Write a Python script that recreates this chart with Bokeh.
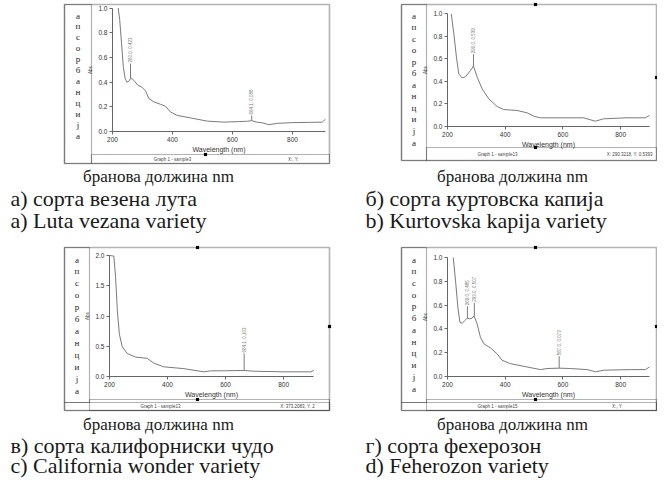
from math import pi
from bokeh.plotting import figure
from bokeh.models import Label, BoxAnnotation, FixedTicker, NumeralTickFormatter, Range1d
from bokeh.layouts import column, row
from bokeh.embed import file_html
from bokeh.resources import INLINE

# ---------------- data ----------------
wl_a = [219, 224, 230, 236, 242, 248, 254, 260, 266, 273, 284, 299, 310, 321, 338, 360, 377, 393, 416,
        460, 516, 571, 620, 650, 664, 680, 700, 721, 749, 800, 860, 899, 910]
ab_a = [1.0, 0.906, 0.716, 0.525, 0.43, 0.40, 0.405, 0.43, 0.425, 0.41, 0.375, 0.357, 0.33, 0.267, 0.24,
        0.22, 0.204, 0.158, 0.13, 0.11, 0.084, 0.076, 0.08, 0.083, 0.088, 0.076, 0.07, 0.055, 0.066,
        0.072, 0.074, 0.076, 0.10]
pk_wl_a = [260, 664]
pk_ab_a = [0.43, 0.088]
pk_top_a = [0.55, 0.13]
pk_txt_a = ["260.0, 0.423", "664.1, 0.088"]

wl_b = [213, 222, 231, 239, 251, 262, 280, 290, 303, 320, 343, 372, 395, 441, 476, 500, 522, 580, 672,
        712, 741, 822, 885, 900]
ab_b = [0.997, 0.82, 0.613, 0.466, 0.43, 0.44, 0.496, 0.535, 0.436, 0.333, 0.245, 0.177, 0.15, 0.142,
        0.121, 0.09, 0.077, 0.077, 0.077, 0.047, 0.068, 0.077, 0.077, 0.097]
pk_wl_b = [290]
pk_ab_b = [0.535]
pk_top_b = [0.64]
pk_txt_b = ["290.0, 0.539"]

wl_c = [200, 215, 221, 227, 234, 244, 261, 290, 330, 353, 387, 456, 525, 548, 600, 663, 698, 801, 893, 904]
ab_c = [2.0, 1.99, 1.64, 1.09, 0.70, 0.49, 0.38, 0.32, 0.30, 0.22, 0.16, 0.13, 0.077, 0.093, 0.095,
        0.10, 0.087, 0.077, 0.077, 0.10]
pk_wl_c = [664]
pk_ab_c = [0.10]
pk_top_c = [0.38]
pk_txt_c = ["664.1, 0.103"]

wl_d = [220, 228, 236, 243, 251, 260, 268, 277, 285, 292, 303, 314, 326, 349, 372, 389, 418, 476, 522,
        545, 587, 626, 684, 713, 742, 834, 886, 900]
ab_d = [1.0, 0.80, 0.58, 0.456, 0.447, 0.47, 0.49, 0.485, 0.49, 0.51, 0.44, 0.33, 0.275, 0.24, 0.19,
        0.136, 0.108, 0.08, 0.058, 0.067, 0.07, 0.067, 0.058, 0.04, 0.053, 0.058, 0.058, 0.08]
pk_wl_d = [269, 293, 587]
pk_ab_d = [0.49, 0.51, 0.07]
pk_top_d = [0.59, 0.62, 0.17]
pk_txt_d = ["269.0, 0.485", "293.0, 0.507", "587.0, 0.073"]

x_ticks = [200, 400, 600, 800]
y_ticks_1 = [0.0, 0.2, 0.4, 0.6, 0.8, 1.0]
y_ticks_2 = [0.0, 0.5, 1.0, 1.5, 2.0]

caption_mk = ["а) сорта везена лута", "б) сорта куртовска капија",
              "в) сорта калифорниски чудо", "г) сорта фехерозон"]
caption_en = ["a) Luta vezana variety", "b) Kurtovska kapija variety",
              "c) California wonder variety", "d) Feherozon variety"]
x_caption = "бранова должина nm"
strip_word = "апсорбанција"
x_label = "Wavelength (nm)"
y_label = "Abs"
status_left = ["Graph 1 - sample3", "Graph 1 - sample13", "Graph 1 - sample13", "Graph 1 - sample15"]
status_right = ["X:, Y:", "X: 290.3218, Y: 0.5393", "X: 373.2083, Y: 2", "X:, Y:"]

# ---------------- layout geometry (reference pixel coordinates) ----------------
SERIF = "Liberation Serif"
SANS = "Liberation Sans"
CURVE = "#7a7a7a"

geo = [
    dict(origin=(0, 0), W=336, H=240, L=112, R=325, T=7.5, B=131, xmax=910, ymax=1.0,
         box=(64, 4, 329, 163), strip=(91, 163), sep=154, status_line=None, status_y=158.5,
         st_x=(172, 293), st_align="center", letters=(15, 135), cap_x=10, cap_c=158,
         cap_y=(176, 198, 220), handles=[(205, 154)]),
    dict(origin=(336, 0), W=321, H=240, L=447, R=649, T=13, B=126, xmax=900, ymax=1.0,
         box=(401, 4, 656, 160), strip=(426, 160), sep=147, status_line=None, status_y=154,
         st_x=(497, 652), st_align="right", letters=(15, 142), cap_x=365, cap_c=512,
         cap_y=(176, 198, 220), handles=[(535, 4), (656, 77), (535, 147)]),
    dict(origin=(0, 240), W=336, H=238, L=109, R=313, T=255, B=376, xmax=903, ymax=2.0,
         box=(64, 247, 329, 410), strip=(89, 402), sep=399, status_line=402, status_y=406,
         st_x=(160, 297), st_align="center", letters=(259, 390), cap_x=10, cap_c=158,
         cap_y=(424, 445, 465), handles=[(197, 247), (329, 326), (197, 399)]),
    dict(origin=(336, 240), W=321, H=238, L=447, R=649, T=257, B=376, xmax=900, ymax=1.0,
         box=(401, 247, 656, 410), strip=(426, 402), sep=399, status_line=402, status_y=406,
         st_x=(497, 617), st_align="center", letters=(259, 388), cap_x=365, cap_c=512,
         cap_y=(424, 445, 465), handles=[(535, 247), (656, 326), (535, 399)]),
]

series = [
    (wl_a, ab_a, pk_wl_a, pk_ab_a, pk_top_a, pk_txt_a, y_ticks_1),
    (wl_b, ab_b, pk_wl_b, pk_ab_b, pk_top_b, pk_txt_b, y_ticks_1),
    (wl_c, ab_c, pk_wl_c, pk_ab_c, pk_top_c, pk_txt_c, y_ticks_2),
    (wl_d, ab_d, pk_wl_d, pk_ab_d, pk_top_d, pk_txt_d, y_ticks_1),
]


def make_panel(i):
    g = geo[i]
    wl, ab, pwl, pab, ptop, ptxt, yt = series[i]
    ox, oy = g["origin"]
    W, H = g["W"], g["H"]
    L, R, T, B = g["L"], g["R"], g["T"], g["B"]
    xmax, ymax = g["xmax"], g["ymax"]

    kx = (xmax - 200) / (R - L)   # data units per pixel
    ky = ymax / (B - T)
    x0 = 200 - (L - ox) * kx
    x1 = 200 + (ox + W - L) * kx
    y0 = -(oy + H - B) * ky
    y1 = ymax + (T - oy) * ky

    p = figure(width=W, height=H, title=None, output_backend="svg", toolbar_location=None,
               x_range=Range1d(x0, x1), y_range=Range1d(y0, y1),
               min_border=0, min_border_left=0, min_border_right=0,
               min_border_top=0, min_border_bottom=0)
    p.outline_line_color = None
    p.grid.visible = False
    p.background_fill_color = "white"
    p.border_fill_color = "white"

    p.xaxis.fixed_location = 0
    p.yaxis.fixed_location = 200
    p.xaxis.bounds = (200, xmax)
    p.yaxis.bounds = (0, ymax)
    p.xaxis.ticker = FixedTicker(ticks=x_ticks)
    p.yaxis.ticker = FixedTicker(ticks=yt)
    p.yaxis.formatter = NumeralTickFormatter(format="0.0")
    for ax in (p.xaxis, p.yaxis):
        ax.axis_line_color = "#666666"
        ax.major_tick_line_color = "#666666"
        ax.major_tick_out = 3
        ax.major_tick_in = 0
        ax.major_label_text_font = SANS
        ax.major_label_text_font_size = "6.5px"
        ax.major_label_text_color = "#333333"
        ax.major_label_standoff = 2
        ax.axis_label_text_font = SANS
        ax.axis_label_text_font_style = "normal"
        ax.axis_label_text_color = "#333333"
    p.xaxis.axis_label = x_label
    p.xaxis.axis_label_text_font_size = "7px"
    p.xaxis.axis_label_standoff = 1
    p.yaxis.axis_label = y_label
    p.yaxis.axis_label_text_font_size = "4.5px"
    p.yaxis.axis_label_standoff = 2

    # spectrum
    p.line(wl, ab, line_color=CURVE, line_width=1)
    # peak markers
    p.segment(x0=pwl, y0=pab, x1=pwl, y1=ptop, line_color=CURVE, line_width=1)
    for xw, yt_, tx in zip(pwl, ptop, ptxt):
        p.add_layout(Label(x=xw, y=yt_, text=tx, angle=pi / 2, text_align="left",
                           text_baseline="middle", text_font=SANS, text_font_size="4.5px",
                           text_color="#777777", y_offset=1))

    # reference-pixel -> data conversion for decorations
    dx = lambda x: 200 + (x - L) * kx
    dy = lambda y: (B - y) * ky

    def box(l, t, r, b, lw=1.0, color="black", fill=None):
        kw = dict(left=dx(l), right=dx(r), top=dy(t), bottom=dy(b),
                  line_color=color, line_width=lw)
        if fill:
            kw.update(fill_color=fill, fill_alpha=1.0)
        else:
            kw.update(fill_alpha=0.0)
        p.add_layout(BoxAnnotation(**kw))

    def lab(x, y, text, size, font=SERIF, align="left", color="#1a1a1a", baseline="middle"):
        p.add_layout(Label(x=dx(x), y=dy(y), text=text,
                           text_font=font, text_font_size=size, text_align=align,
                           text_baseline=baseline, text_color=color))

    bl, bt, br, bb = g["box"]
    sr, sb = g["strip"]
    box(bl, bt, br, bb, lw=1.6)
    box(bl, bt, sr, sb, lw=1.2)
    box(sr, g["sep"], br, bb, lw=1.0)
    if g["status_line"] is not None:
        box(bl, g["status_line"], br, bb, lw=1.2)
    for hx, hy in g["handles"]:
        box(hx - 1.5, hy - 1.5, hx + 1.5, hy + 1.5, lw=0.5, fill="black")

    ly0, ly1 = g["letters"]
    n = len(strip_word)
    for k, ch in enumerate(strip_word):
        lab((bl + sr) / 2, ly0 + k * (ly1 - ly0) / (n - 1), ch, "9px", align="center", color="#222222")

    lab(g["st_x"][0], g["status_y"], status_left[i], "4.5px", font=SANS, align="center", color="#444444")
    lab(g["st_x"][1], g["status_y"], status_right[i], "4.5px", font=SANS, align=g["st_align"],
        color="#444444")

    cy = g["cap_y"]
    lab(g["cap_c"], cy[0], x_caption, "17px", align="center")
    lab(g["cap_x"], cy[1], caption_mk[i], "22px")
    lab(g["cap_x"], cy[2], caption_en[i], "22px")
    return p


panels = [make_panel(i) for i in range(4)]
layout = column(row(panels[0], panels[1], spacing=0), row(panels[2], panels[3], spacing=0), spacing=0)

open("out.html", "w").write(file_html(layout, INLINE))
